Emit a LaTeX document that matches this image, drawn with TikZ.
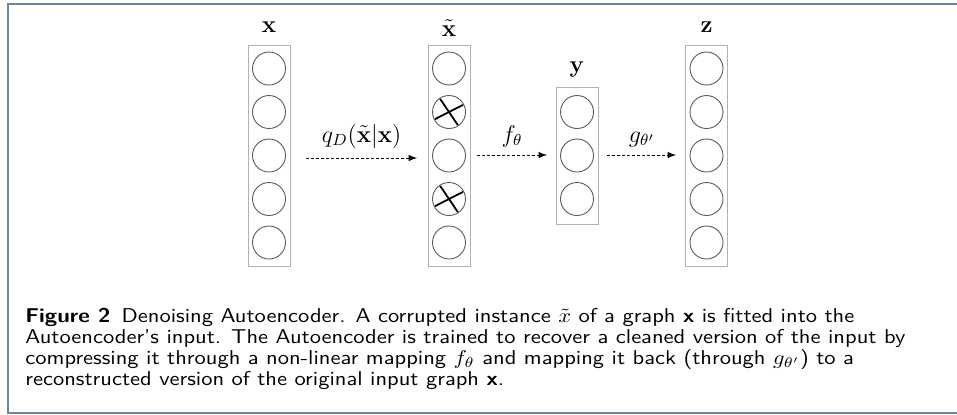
\documentclass[tikz,border=0pt]{standalone}
\usepackage{amsmath,amssymb}
\usepackage{graphicx}
\usepackage{xcolor}
\usepackage{tikz}
\usetikzlibrary{arrows,positioning}

\definecolor{framecol}{RGB}{104,132,160}
\definecolor{boxcol}{RGB}{178,178,178}
\definecolor{unitcol}{RGB}{90,90,90}
\newcommand{\capline}[1]{\scalebox{1.125}[1]{#1}}

\begin{document}
\begin{tikzpicture}[x=0.5pt, y=-0.5pt,
  layer/.style={draw=boxcol, line width=0.5pt, minimum width=21pt, inner sep=0pt},
  unit/.style={circle, draw=unitcol, line width=0.45pt, minimum size=16.5pt, inner sep=0pt},
  crossline/.style={line width=0.9pt, shorten <=0.6pt, shorten >=0.6pt},
  lab/.style={font=\large, anchor=base, inner sep=0pt},
  dasharrow/.style={dash pattern=on 1.6pt off 0.9pt, -latex, line width=0.45pt},
  captext/.style={anchor=base west, inner sep=0pt, font=\sffamily\fontsize{10}{12}\selectfont}]
\useasboundingbox (0,0) rectangle (957,414);

% Frame
\draw[framecol, line width=1pt] (957,3.5) -- (7.5,3.5) -- (7.5,412.5) -- (957,412.5);

% Layers
\node[layer, minimum height=110.5pt] (bx) at (269,155.5) {};
\node[layer, minimum height=110.5pt] (bxt) at (449,155.5) {};
\node[layer, minimum height=68.5pt] (by) at (577,155.5) {};
\node[layer, minimum height=110.5pt] (bz) at (706.5,155.5) {};

% Units
\foreach \i in {1,...,5} {
  \node[unit] (x\i) at (269,{155.5+(\i-3)*43.5}) {};
  \node[unit] (xt\i) at (449,{155.5+(\i-3)*43.5}) {};
  \node[unit] (z\i) at (706.5,{155.5+(\i-3)*43.5}) {};
}
\foreach \i in {1,2,3}
  \node[unit] (y\i) at (577,{155.5+(\i-2)*43.5}) {};

% Corrupted units
\foreach \i in {2,4} {
  \draw[crossline] (xt\i.207) -- (xt\i.27);
  \draw[crossline] (xt\i.124) -- (xt\i.-56);
}

% Layer labels
\node[lab] (lx) at (269,32) {$\mathbf{x}$};
\node[lab] (lxt) at (449,36) {$\tilde{\mathbf{x}}$};
\node[lab] (ly) at (577,72) {$\mathbf{y}$};
\node[lab] (lz) at (706.5,32) {$\mathbf{z}$};

% Mappings
\coordinate (q1) at (306,158);
\coordinate (q2) at (417,158);
\coordinate (f1) at (477,155);
\coordinate (f2) at (547,155);
\coordinate (g1) at (607,155);
\coordinate (g2) at (676,155);
\draw[dasharrow] (q1) -- (q2);
\draw[dasharrow] (f1) -- (f2);
\draw[dasharrow] (g1) -- (g2);
\node[lab] (lq) at (361.5,142) {$q_D(\tilde{\mathbf{x}}|\mathbf{x})$};
\node[lab] (lf) at (512,142) {$f_\theta$};
\node[lab] (lg) at (642,142) {$g_{\theta'}$};

% Caption
\node[captext] (cap1) at (25,322) {\capline{\textbf{Figure 2}\hspace{0.5em}Denoising Autoencoder. A corrupted instance $\tilde{x}$ of a graph \textbf{x} is fitted into the}};
\node[captext] (cap2) at (25,343) {\capline{Autoencoder's input. The Autoencoder is trained to recover a cleaned version of the input by}};
\node[captext] (cap3) at (25,364) {\capline{compressing it through a non-linear mapping $f_\theta$ and mapping it back (through $g_{\theta'}$) to a}};
\node[captext] (cap4) at (25,385) {\capline{reconstructed version of the original input graph \textbf{x}.}};
\end{tikzpicture}
\end{document}
